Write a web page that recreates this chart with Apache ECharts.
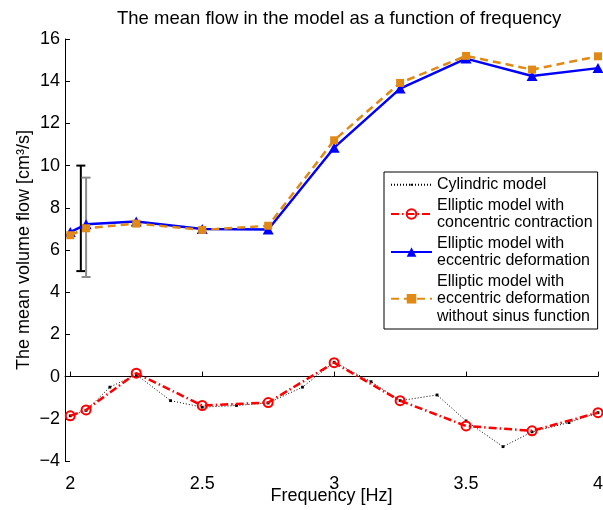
<!DOCTYPE html>
<html><head><meta charset="utf-8">
<script src="https://cdn.jsdelivr.net/npm/echarts@6/dist/echarts.min.js"></script>
<style>html,body{margin:0;padding:0;background:#fff}#c{width:603px;height:510px}</style>
</head><body><div id="c"></div>
<script>
// ---- data ----
const freqs = [2, 2.06, 2.25, 2.5, 2.75, 3, 3.25, 3.5, 3.75, 4];
const cylX = [2, 2.06, 2.15, 2.25, 2.38, 2.5, 2.63, 2.75, 2.88, 3, 3.14, 3.25, 3.39, 3.5, 3.64, 3.75, 3.89, 4];
const cylY = [-1.86, -1.6, -0.5, 0.1, -1.14, -1.45, -1.37, -1.25, -0.5, 0.68, -0.24, -1.14, -0.87, -2.1, -3.32, -2.62, -2.18, -1.71];
const concentric = [-1.86, -1.58, 0.16, -1.37, -1.23, 0.66, -1.14, -2.34, -2.57, -1.71];
const eccentric = [6.85, 7.22, 7.35, 7.0, 6.97, 10.85, 13.65, 15.07, 14.25, 14.62];
const noSinus = [6.7, 7.03, 7.25, 6.95, 7.15, 11.2, 13.92, 15.2, 14.55, 15.18];
const errX = [2.04, 2.06];
const errLow = [5.0, 4.72];
const errHigh = [10.0, 9.43];
const errColors = ['#000000', '#8c8c8c'];
const xTicks = [2, 2.5, 3, 3.5, 4];
const names = ['Cylindric model', 'Elliptic model with\nconcentric contraction', 'Elliptic model with\neccentric deformation', 'Elliptic model with\neccentric deformation\nwithout sinus function'];
const titleText = 'The mean flow in the model as a function of frequency';
const xName = 'Frequency [Hz]';
const yName = 'The mean volume flow [cm\u00B3/s]';

const FF = '"Liberation Sans", Arial, Helvetica, sans-serif';
const zip = (xs, ys) => xs.map((x, i) => [x, ys[i]]);
// small centred dot inside a larger invisible box (keeps legend dot small)
const DOT = 'path://M0,0M10,10M4,4L6,4L6,6L4,6Z';

const chart = echarts.init(document.getElementById('c'), null, {renderer: 'canvas'});
chart.setOption({
  animation: false,
  backgroundColor: '#fff',
  textStyle: {fontFamily: FF},
  title: {
    text: titleText, left: 112, top: 4,
    textStyle: {fontFamily: FF, fontSize: 18.5, fontWeight: 'normal', color: '#000'}
  },
  grid: {left: 65, right: 5, top: 39, bottom: 49, containLabel: false, outerBoundsMode: 'none'},
  legend: {
    data: names, orient: 'vertical', left: 384, top: 172,
    padding: [4, 5, 4, 6], itemGap: 3, itemWidth: 41, itemHeight: 12,
    backgroundColor: '#fff', borderColor: '#000', borderWidth: 1, borderRadius: 0,
    textStyle: {fontFamily: FF, fontSize: 16, lineHeight: 17.5, color: '#000'},
    selectedMode: false
  },
  xAxis: {
    type: 'value', min: 1.98, max: 4,
    name: xName, nameLocation: 'middle', nameGap: 26, nameMoveOverlap: false,
    nameTextStyle: {fontFamily: FF, fontSize: 18, color: '#000'},
    axisLine: {show: true, lineStyle: {color: '#000', width: 1}},
    axisTick: {show: true, inside: true, length: 5, customValues: xTicks, lineStyle: {color: '#000'}},
    axisLabel: {customValues: xTicks, fontFamily: FF, fontSize: 18, color: '#000', margin: 14},
    splitLine: {show: false}
  },
  yAxis: {
    type: 'value', min: -4, max: 16, interval: 2,
    name: yName, nameLocation: 'middle', nameGap: 32, nameRotate: 90, nameMoveOverlap: false,
    nameTextStyle: {fontFamily: FF, fontSize: 18, color: '#000'},
    axisLine: {show: true, lineStyle: {color: '#000', width: 1}},
    axisTick: {show: true, inside: true, length: 5, lineStyle: {color: '#000'}},
    axisLabel: {fontFamily: FF, fontSize: 18, color: '#000', margin: 5,
      formatter: v => v < 0 ? '\u2212' + Math.abs(v) : String(v)},
    splitLine: {show: false}
  },
  series: [
    {
      type: 'custom', name: 'errorbars', z: 1,
      encode: {x: 0, y: [1, 2]},
      data: errX.map((x, i) => [x, errLow[i], errHigh[i]]),
      renderItem: (params, api) => {
        const x = api.value(0), lo = api.value(1), hi = api.value(2);
        const p1 = api.coord([x, lo]), p2 = api.coord([x, hi]);
        const hw = 4.5;
        const st = {stroke: errColors[params.dataIndex], lineWidth: 2};
        return {type: 'group', children: [
          {type: 'line', shape: {x1: p1[0], y1: p1[1], x2: p2[0], y2: p2[1]}, style: st},
          {type: 'line', shape: {x1: p1[0] - hw, y1: p1[1], x2: p1[0] + hw, y2: p1[1]}, style: st},
          {type: 'line', shape: {x1: p2[0] - hw, y1: p2[1], x2: p2[0] + hw, y2: p2[1]}, style: st}
        ]};
      }
    },
    {
      type: 'line', name: names[0], z: 2,
      data: zip(cylX, cylY),
      symbol: DOT, symbolSize: 14,
      itemStyle: {color: '#000'},
      lineStyle: {color: '#000', width: 1, type: [1, 2]}
    },
    {
      type: 'line', name: names[1], z: 3,
      data: zip(freqs, concentric),
      symbol: 'circle', symbolSize: 9,
      itemStyle: {color: 'rgba(255,255,255,0)', borderColor: '#ff0000', borderWidth: 2},
      lineStyle: {color: '#ff0000', width: 2.5, type: [8, 3, 1.5, 3]}
    },
    {
      type: 'line', name: names[2], z: 4,
      data: zip(freqs, eccentric),
      symbol: 'triangle', symbolSize: [11, 10],
      itemStyle: {color: '#0000ff'},
      lineStyle: {color: '#0000ff', width: 2.5, type: 'solid'}
    },
    {
      type: 'line', name: names[3], z: 5,
      data: zip(freqs, noSinus),
      symbol: 'rect', symbolSize: 8,
      itemStyle: {color: '#e08a15'},
      lineStyle: {color: '#e08a15', width: 2.5, type: [8, 5]}
    }
  ]
});
</script>
</body></html>
